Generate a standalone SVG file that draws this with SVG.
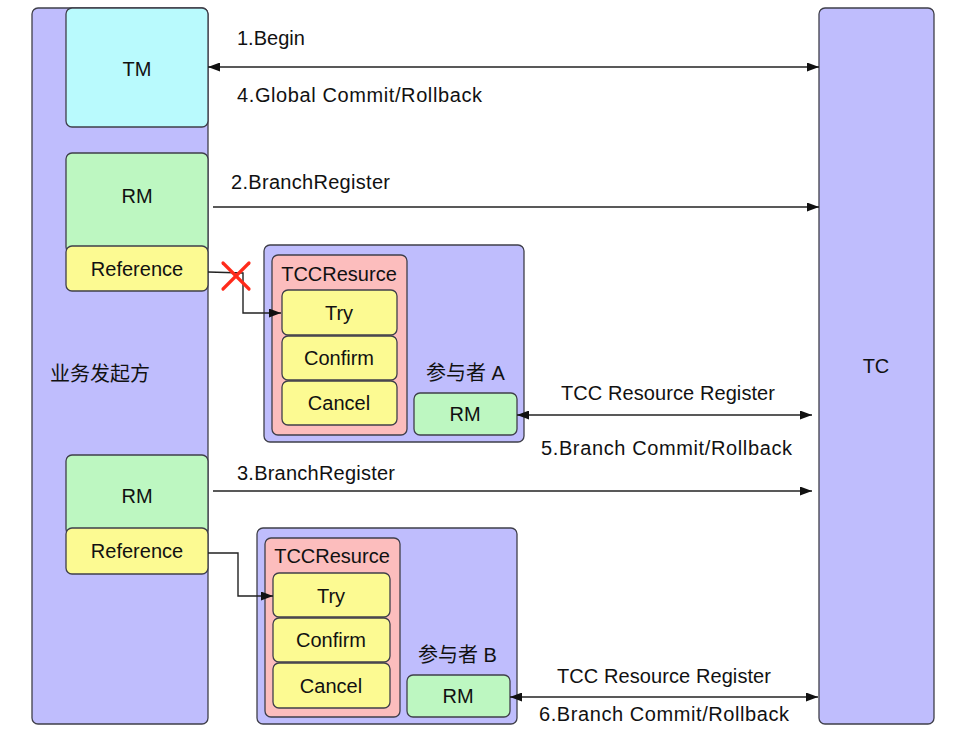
<svg xmlns="http://www.w3.org/2000/svg" width="970" height="733" viewBox="0 0 970 733">
<defs>
<style>
.box{stroke:#3f3f4a;stroke-width:1.3}
.purple{fill:#bfbdfd}
.cyan{fill:#b9fafd}
.green{fill:#bdf7c1}
.yellow{fill:#fcfa92}
.pink{fill:#fcbdbd}
text{font-family:"Liberation Sans",Arial,"Noto Sans CJK SC",sans-serif;font-size:20px;fill:#111}
.c{text-anchor:middle}
.line{stroke:#222;stroke-width:1.4;fill:none}
</style>
<marker id="ah" viewBox="0 0 12 9" refX="12" refY="4.5" markerWidth="12" markerHeight="9" markerUnits="userSpaceOnUse" orient="auto-start-reverse">
<path d="M0,0 L12,4.5 L0,9 Z" fill="#111"/>
</marker>
</defs>
<rect width="970" height="733" fill="#ffffff"/>

<g id="initiator">
<rect class="box purple" x="32" y="8" width="176" height="716" rx="6"/>
<text x="50" y="381">业务发起方</text>
</g>
<g id="tm">
<rect class="box cyan" x="66" y="8" width="142" height="119" rx="6"/>
<text class="c" x="137" y="76">TM</text>
</g>
<g id="rm1">
<rect class="box green" x="66" y="153" width="142" height="100" rx="6"/>
<text class="c" x="137" y="203">RM</text>
</g>
<g id="reference1">
<rect class="box yellow" x="66" y="246" width="142" height="45" rx="6"/>
<text class="c" x="137" y="276">Reference</text>
</g>
<g id="rm2">
<rect class="box green" x="66" y="455" width="142" height="80" rx="6"/>
<text class="c" x="137" y="503">RM</text>
</g>
<g id="reference2">
<rect class="box yellow" x="66" y="528" width="142" height="46" rx="6"/>
<text class="c" x="137" y="558">Reference</text>
</g>
<g id="tc">
<rect class="box purple" x="819" y="8" width="115" height="716" rx="6"/>
<text class="c" x="876" y="373">TC</text>
</g>

<g id="participantA">
<rect class="box purple" x="264" y="245" width="260" height="197" rx="6"/>
<text x="426" y="380">参与者 A</text>
</g>
<g id="tccA">
<rect class="box pink" x="272" y="255" width="135" height="180" rx="6"/>
<text class="c" x="339" y="281">TCCResurce</text>
</g>
<g id="tryA">
<rect class="box yellow" x="282" y="290" width="115" height="45" rx="6"/>
<text class="c" x="339" y="320">Try</text>
</g>
<g id="confirmA">
<rect class="box yellow" x="282" y="336" width="115" height="44" rx="6"/>
<text class="c" x="339" y="365">Confirm</text>
</g>
<g id="cancelA">
<rect class="box yellow" x="282" y="381" width="115" height="44" rx="6"/>
<text class="c" x="339" y="410">Cancel</text>
</g>
<g id="rmA">
<rect class="box green" x="414" y="393" width="103" height="42" rx="6"/>
<text class="c" x="465" y="421">RM</text>
</g>

<g id="participantB">
<rect class="box purple" x="257" y="528" width="260" height="196" rx="6"/>
<text x="418" y="662">参与者 B</text>
</g>
<g id="tccB">
<rect class="box pink" x="265" y="538" width="135" height="179" rx="6"/>
<text class="c" x="332" y="563">TCCResurce</text>
</g>
<g id="tryB">
<rect class="box yellow" x="273" y="573" width="117" height="44" rx="6"/>
<text class="c" x="331" y="603">Try</text>
</g>
<g id="confirmB">
<rect class="box yellow" x="273" y="618" width="117" height="44" rx="6"/>
<text class="c" x="331" y="647">Confirm</text>
</g>
<g id="cancelB">
<rect class="box yellow" x="273" y="663" width="117" height="45" rx="6"/>
<text class="c" x="331" y="693">Cancel</text>
</g>
<g id="rmB">
<rect class="box green" x="407" y="675" width="103" height="42" rx="6"/>
<text class="c" x="458" y="703">RM</text>
</g>

<g id="connectors">
<line class="line" x1="208" y1="67" x2="819" y2="67" marker-start="url(#ah)" marker-end="url(#ah)"/>
<text x="237" y="45">1.Begin</text>
<text x="237" y="102" textLength="245" lengthAdjust="spacing">4.Global Commit/Rollback</text>

<line class="line" x1="213" y1="207" x2="819" y2="207" marker-end="url(#ah)"/>
<text x="231" y="189" textLength="159" lengthAdjust="spacing">2.BranchRegister</text>

<polyline class="line" points="208,272 243,273 243,313 281,313" marker-end="url(#ah)"/>
<g stroke="#ff2a1a" stroke-width="3.2" stroke-linecap="round">
<line x1="223" y1="263" x2="249" y2="289"/>
<line x1="249" y1="263" x2="223" y2="289"/>
</g>

<line class="line" x1="517" y1="415" x2="812" y2="415" marker-start="url(#ah)" marker-end="url(#ah)"/>
<text x="561" y="400" textLength="214" lengthAdjust="spacing">TCC Resource Register</text>
<text x="541" y="455" textLength="251" lengthAdjust="spacing">5.Branch Commit/Rollback</text>

<line class="line" x1="213" y1="491" x2="812" y2="491" marker-end="url(#ah)"/>
<text x="237" y="480" textLength="158" lengthAdjust="spacing">3.BranchRegister</text>

<polyline class="line" points="208,553 238,553 238,596 273,596" marker-end="url(#ah)"/>

<line class="line" x1="510" y1="697" x2="818" y2="697" marker-start="url(#ah)" marker-end="url(#ah)"/>
<text x="557" y="683" textLength="214" lengthAdjust="spacing">TCC Resource Register</text>
<text x="539" y="721" textLength="250" lengthAdjust="spacing">6.Branch Commit/Rollback</text>
</g>
</svg>
